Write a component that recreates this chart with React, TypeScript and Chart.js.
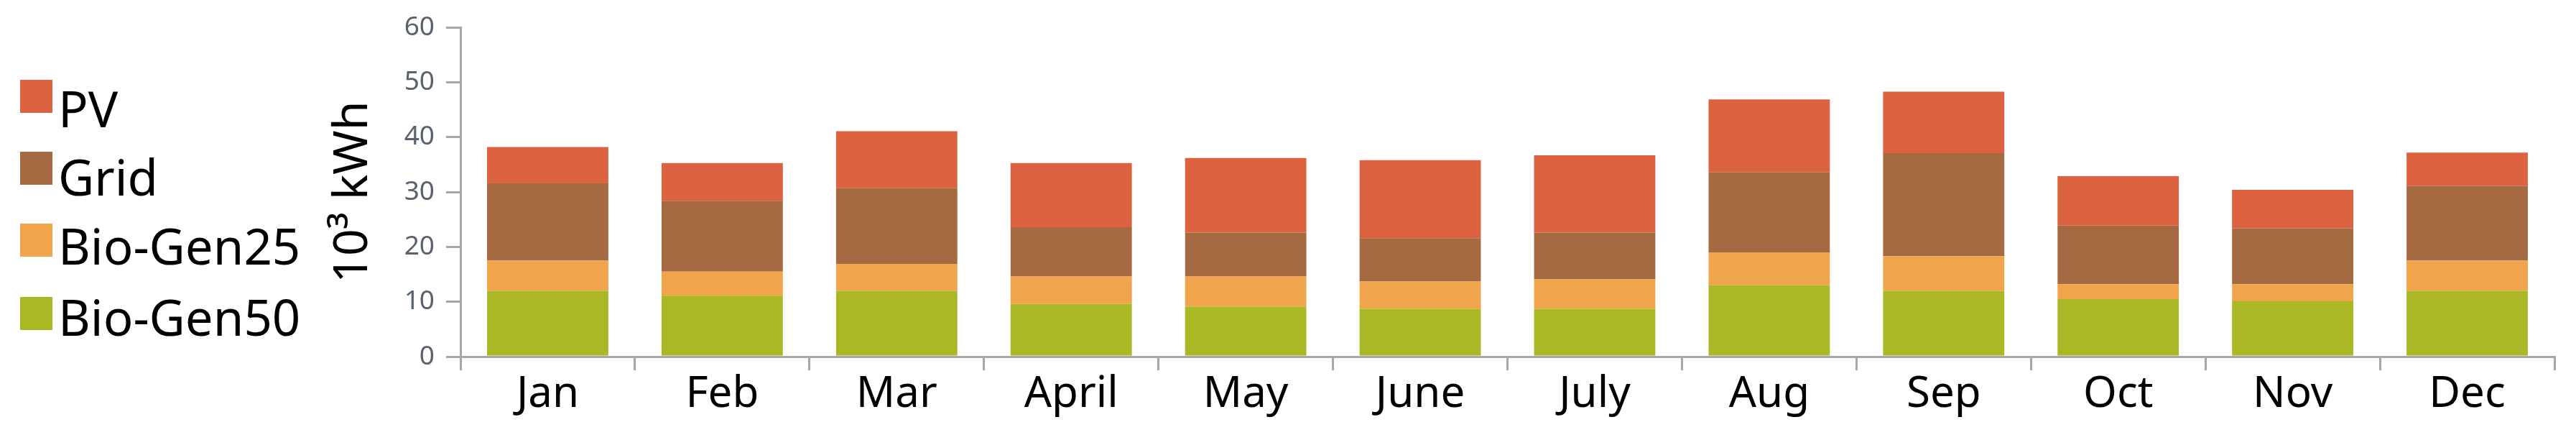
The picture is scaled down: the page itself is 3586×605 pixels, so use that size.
import React, { useEffect, useRef } from "react";
import { Chart, registerables } from "chart.js";

Chart.register(...registerables);

const months = ["Jan", "Feb", "Mar", "April", "May", "June", "July", "Aug", "Sep", "Oct", "Nov", "Dec"];
const bioGen50 = [12.0, 11.1, 12.0, 9.6, 9.1, 8.7, 8.7, 13.0, 12.0, 10.5, 10.1, 12.0];
const bioGen25 = [5.5, 4.4, 4.9, 5.0, 5.5, 5.0, 5.4, 6.0, 6.3, 2.7, 3.1, 5.5];
const grid = [14.1, 12.9, 13.8, 9.0, 8.0, 7.9, 8.5, 14.6, 18.8, 10.7, 10.2, 13.6];
const pv = [6.6, 6.9, 10.4, 11.7, 13.6, 14.2, 14.1, 13.3, 11.2, 9.0, 7.0, 6.1];
const yTicks = [0, 10, 20, 30, 40, 50, 60];

const FONT = "'Noto Sans', sans-serif";

const legendPlugin = {
  id: "leftLegend",
  afterDraw(chart: any) {
    const ctx = chart.ctx;
    const ds = [...chart.data.datasets].reverse();
    const boxTops = [111, 211, 311, 413];
    const baselines = [177, 272, 368, 467];
    ctx.save();
    ds.forEach((d: any, i: number) => {
      ctx.fillStyle = d.backgroundColor;
      ctx.fillRect(28, boxTops[i], 45, 46);
      ctx.fillStyle = "#000000";
      ctx.font = `69px ${FONT}`;
      ctx.textAlign = "left";
      ctx.textBaseline = "alphabetic";
      ctx.fillText(d.label, 81, baselines[i]);
    });
    ctx.restore();
  },
};

export default function App() {
  const ref = useRef<HTMLCanvasElement | null>(null);
  useEffect(() => {
    if (!ref.current) return;
    const chart = new Chart(ref.current, {
      type: "bar",
      data: {
        labels: months,
        datasets: [
          { label: "Bio-Gen50", data: bioGen50, backgroundColor: "#AAB825" },
          { label: "Bio-Gen25", data: bioGen25, backgroundColor: "#F0A44C" },
          { label: "Grid", data: grid, backgroundColor: "#A56A41" },
          { label: "PV", data: pv, backgroundColor: "#DD6240" },
        ],
      },
      options: {
        responsive: false,
        animation: false,
        devicePixelRatio: 1,
        layout: { padding: { left: 440, top: 35, right: 30, bottom: 0 } },
        datasets: { bar: { barPercentage: 0.695, categoryPercentage: 1 } },
        plugins: { legend: { display: false }, tooltip: { enabled: false } },
        scales: {
          x: {
            stacked: true,
            afterFit: (s: any) => { s.height = 109; },
            grid: { drawOnChartArea: false, drawTicks: true, tickLength: 19, color: "#A6A6A6", lineWidth: 3, offset: true },
            border: { display: true, color: "#A6A6A6", width: 3 },
            ticks: { color: "#000000", font: { family: FONT, size: 60, lineHeight: 1 }, padding: 4, maxRotation: 0, autoSkip: false },
          },
          y: {
            stacked: true,
            min: 0,
            max: 60,
            afterFit: (s: any) => { s.width = 201; },
            afterBuildTicks: (s: any) => { s.ticks = yTicks.map((v) => ({ value: v })); },
            grid: { drawOnChartArea: false, drawTicks: true, tickLength: 20, color: "#A6A6A6", lineWidth: 3 },
            border: { display: true, color: "#A6A6A6", width: 3 },
            ticks: { color: "#5A6270", font: { family: FONT, size: 37 }, padding: 16 },
            title: {
              display: true,
              text: "10³ kWh",
              color: "#000000",
              font: { family: FONT, size: 66, lineHeight: 1.2 },
              padding: { top: 13, bottom: 0 },
            },
          },
        },
      },
      plugins: [legendPlugin],
    });
    return () => chart.destroy();
  }, []);
  return (
    <div style={{ position: "fixed", left: 0, top: 0, width: 3586, height: 605, background: "#ffffff" }}>
      <canvas ref={ref} width={3586} height={605} />
    </div>
  );
}
